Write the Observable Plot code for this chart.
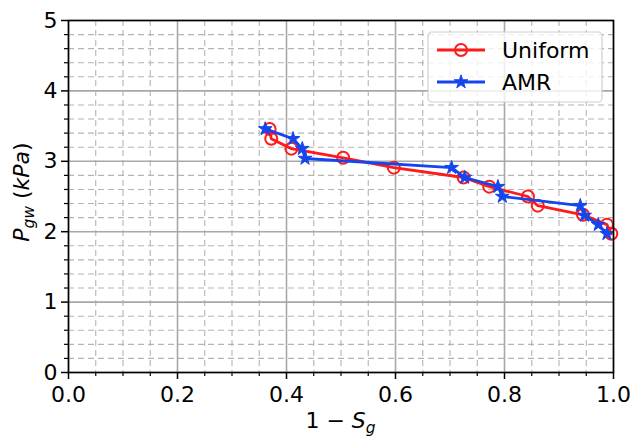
<!DOCTYPE html>
<html>
<head>
<meta charset="utf-8">
<script src="https://cdn.jsdelivr.net/npm/d3@7"></script>
<script src="https://cdn.jsdelivr.net/npm/@observablehq/plot@0.6"></script>
<style>
  html, body { margin: 0; padding: 0; background: #fff; }
  #chart { width: 630px; height: 436px; }
</style>
</head>
<body>
<div id="chart"></div>
<script>
// Gas-water pressure against liquid saturation, uniform vs. AMR meshes
const uniformX = [0.369, 0.372, 0.409, 0.504, 0.597, 0.725, 0.772, 0.843, 0.861, 0.944, 0.988, 0.996];
const uniformY = [3.46, 3.32, 3.18, 3.05, 2.91, 2.77, 2.64, 2.50, 2.37, 2.24, 2.10, 1.97];
const amrX = [0.361, 0.412, 0.429, 0.434, 0.703, 0.727, 0.788, 0.796, 0.939, 0.947, 0.972, 0.988];
const amrY = [3.46, 3.32, 3.18, 3.04, 2.91, 2.77, 2.64, 2.50, 2.37, 2.23, 2.10, 1.97];

const xMajor = [0, 0.2, 0.4, 0.6, 0.8, 1.0];
const xMinor = d3.range(1, 20).map(i => i * 0.05).filter(v => Math.abs(v / 0.2 - Math.round(v / 0.2)) > 1e-6);
const yMajor = [0, 1, 2, 3, 4, 5];
const yMinor = d3.range(1, 25).map(i => i * 0.2).filter(v => Math.abs(v - Math.round(v)) > 1e-6);

const series = [
  {name: "Uniform", color: "#ff1a1a", symbol: "circle", xs: uniformX, ys: uniformY},
  {name: "AMR", color: "#1446ee", symbol: "star", xs: amrX, ys: amrY}
];

const rows = s => s.xs.map((x, i) => ({x, y: s.ys[i]}));
const FONT = "DejaVu Sans, sans-serif";
const FS = 22;

const lineWidth = 2.8;
const starR = 4.3;

const plot = Plot.plot({
  width: 630,
  height: 436,
  marginLeft: 68,
  marginRight: 17,
  marginTop: 20,
  marginBottom: 64,
  style: {fontFamily: FONT, fontSize: FS + "px", background: "#fff", color: "#000", overflow: "visible"},
  x: {domain: [0, 1]},
  y: {domain: [0, 5]},
  marks: [
    Plot.gridX(xMinor, {stroke: "#b4b4b4", strokeOpacity: 1, strokeWidth: 1.1, strokeDasharray: "6,4"}),
    Plot.gridY(yMinor, {stroke: "#b4b4b4", strokeOpacity: 1, strokeWidth: 1.1, strokeDasharray: "6,4"}),
    Plot.gridX(xMajor, {stroke: "#a8a8a8", strokeOpacity: 1, strokeWidth: 1.6}),
    Plot.gridY(yMajor, {stroke: "#a8a8a8", strokeOpacity: 1, strokeWidth: 1.6}),
    Plot.axisX(xMinor, {tickSize: 4, tickFormat: () => "", label: null, strokeWidth: 1.2}),
    Plot.axisY(yMinor, {tickSize: 4, tickFormat: () => "", label: null, strokeWidth: 1.2}),
    Plot.axisX(xMajor, {tickSize: 7, tickPadding: 7, tickFormat: ".1f", label: null, strokeWidth: 1.5, fontSize: FS}),
    Plot.axisY(yMajor, {tickSize: 7, tickPadding: 4, tickFormat: "d", label: null, strokeWidth: 1.5, fontSize: FS}),
    ...series.flatMap(s => [
      Plot.line(rows(s), {x: "x", y: "y", stroke: s.color, strokeWidth: lineWidth}),
      s.symbol === "circle"
        ? Plot.dot(rows(s), {x: "x", y: "y", r: 6, stroke: s.color, strokeWidth: 2, fill: "none"})
        : Plot.dot(rows(s), {x: "x", y: "y", r: starR, symbol: "star", fill: s.color, stroke: s.color, strokeWidth: 1})
    ]),
    Plot.frame({stroke: "#000", strokeWidth: 1.6})
  ]
});

document.getElementById("chart").appendChild(plot);

// Axis titles with italic math-style subscripts
const svg = d3.select(plot);
const xs = plot.scale("x"), ys = plot.scale("y");
const x0 = xs.range[0], x1 = xs.range[1];
const yTop = ys.range[1], yBot = ys.range[0];

const xt = svg.append("text")
  .attr("x", (x0 + x1) / 2).attr("y", 428)
  .attr("text-anchor", "middle")
  .attr("font-family", FONT).attr("font-size", FS).attr("fill", "#000");
xt.append("tspan").text("1 \u2212 ");
xt.append("tspan").attr("font-style", "italic").text("S");
xt.append("tspan").attr("font-style", "italic").attr("font-size", FS * 0.7).attr("dy", "0.3em").text("g");

const yt = svg.append("text")
  .attr("transform", `translate(29,${(yTop + yBot) / 2 - 4}) rotate(-90)`)
  .attr("text-anchor", "middle")
  .attr("font-family", FONT).attr("font-size", FS).attr("fill", "#000");
yt.append("tspan").attr("font-style", "italic").text("P");
yt.append("tspan").attr("font-style", "italic").attr("font-size", FS * 0.7).attr("dy", "0.3em").text("gw");
yt.append("tspan").attr("dy", "-0.21em").text(" (");
yt.append("tspan").attr("font-style", "italic").text("kPa");
yt.append("tspan").text(")");

// Legend box in the upper right corner
const lg = svg.append("g").attr("transform", "translate(428,32)");
lg.append("rect")
  .attr("width", 174).attr("height", 70).attr("rx", 4)
  .attr("fill", "#fff").attr("fill-opacity", 0.8)
  .attr("stroke", "#d0d0d0").attr("stroke-width", 1.2);
series.forEach((s, i) => {
  const cy = 18 + i * 32;
  lg.append("line")
    .attr("x1", 9).attr("x2", 57).attr("y1", cy).attr("y2", cy)
    .attr("stroke", s.color).attr("stroke-width", lineWidth);
  if (s.symbol === "circle") {
    lg.append("circle").attr("cx", 33).attr("cy", cy).attr("r", 6)
      .attr("fill", "none").attr("stroke", s.color).attr("stroke-width", 2);
  } else {
    lg.append("path")
      .attr("transform", `translate(33,${cy})`)
      .attr("d", d3.symbol(d3.symbolStar, Math.PI * starR * starR)())
      .attr("fill", s.color).attr("stroke", s.color).attr("stroke-width", 1);
  }
  lg.append("text")
    .attr("x", 74).attr("y", cy).attr("dy", "0.35em")
    .attr("text-anchor", "start")
    .attr("font-family", FONT).attr("font-size", FS).attr("fill", "#000")
    .text(s.name);
});
</script>
</body>
</html>
